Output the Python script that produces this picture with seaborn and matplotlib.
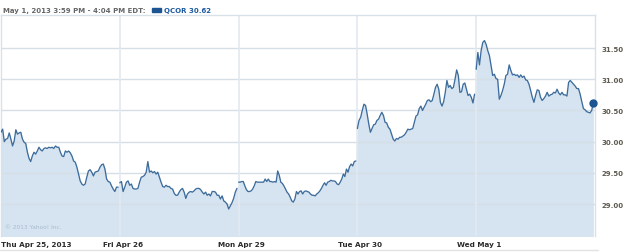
import numpy as np
import pandas as pd
import matplotlib
matplotlib.use("Agg")
import matplotlib.pyplot as plt
import matplotlib.transforms as mtransforms
import seaborn as sns

# ---- data (QCOR intraday prices) ----
day_labels = ["Thu Apr 25, 2013", "Fri Apr 26", "Mon Apr 29", "Tue Apr 30", "Wed May 1"]

thu = [30.15, 30.20, 30.00, 30.04, 30.05, 30.14, 30.04, 29.93, 30.01, 30.19, 30.12, 30.14,
       30.15, 30.04, 29.99, 29.97, 29.83, 29.73, 29.68, 29.77, 29.83, 29.80, 29.85, 29.91,
       29.87, 29.85, 29.89, 29.90, 29.89, 29.91, 29.90, 29.91, 29.89, 29.93, 29.91, 29.91,
       29.83, 29.77, 29.76, 29.85, 29.83, 29.85, 29.82, 29.77, 29.69, 29.67, 29.59, 29.48,
       29.37, 29.32, 29.30, 29.32, 29.43, 29.53, 29.55, 29.51, 29.45, 29.51, 29.52, 29.53,
       29.59, 29.63, 29.64, 29.56, 29.40, 29.36, 29.35, 29.29, 29.24, 29.20, 29.27, 29.27]

fri = [29.34, 29.36, 29.20, 29.27, 29.35, 29.37, 29.30, 29.32, 29.25, 29.24, 29.24, 29.25,
       29.35, 29.43, 29.44, 29.46, 29.51, 29.68, 29.51, 29.53, 29.50, 29.52, 29.48, 29.51,
       29.43, 29.35, 29.28, 29.27, 29.30, 29.28, 29.28, 29.25, 29.24, 29.17, 29.14, 29.14,
       29.19, 29.23, 29.25, 29.19, 29.09, 29.16, 29.19, 29.20, 29.19, 29.21, 29.24, 29.25,
       29.25, 29.23, 29.19, 29.16, 29.19, 29.14, 29.16, 29.13, 29.20, 29.20, 29.19, 29.14,
       29.14, 29.08, 29.13, 29.05, 29.03, 29.00, 28.92, 28.97, 29.02, 29.09, 29.19, 29.25]

mon = [29.35, 29.35, 29.36, 29.36, 29.29, 29.23, 29.20, 29.20, 29.21, 29.24, 29.29, 29.36,
       29.35, 29.35, 29.35, 29.35, 29.35, 29.40, 29.36, 29.40, 29.36, 29.36, 29.35, 29.36,
       29.35, 29.53, 29.46, 29.35, 29.33, 29.29, 29.24, 29.19, 29.16, 29.11, 29.05, 29.03,
       29.08, 29.20, 29.16, 29.20, 29.21, 29.16, 29.20, 29.21, 29.20, 29.19, 29.16, 29.14,
       29.14, 29.13, 29.16, 29.18, 29.21, 29.25, 29.30, 29.34, 29.30, 29.35, 29.36, 29.38,
       29.37, 29.37, 29.36, 29.32, 29.31, 29.35, 29.40, 29.48, 29.44, 29.56, 29.51, 29.60,
       29.64, 29.61, 29.68, 29.69]

tue = [30.21, 30.34, 30.39, 30.50, 30.60, 30.58, 30.44, 30.28, 30.15, 30.21, 30.27, 30.28,
       30.34, 30.36, 30.42, 30.47, 30.42, 30.31, 30.30, 30.23, 30.20, 30.12, 30.04, 30.01,
       30.05, 30.04, 30.07, 30.07, 30.09, 30.11, 30.15, 30.20, 30.19, 30.20, 30.21, 30.31,
       30.41, 30.43, 30.53, 30.57, 30.50, 30.55, 30.60, 30.66, 30.67, 30.64, 30.66, 30.76,
       30.87, 30.92, 30.84, 30.63, 30.57, 30.64, 30.79, 30.98, 30.87, 30.90, 30.85, 30.87,
       31.00, 31.15, 31.06, 30.79, 30.80, 30.92, 30.94, 30.84, 30.74, 30.76, 30.71, 30.62,
       30.76]

wed = [31.16, 31.43, 31.23, 31.46, 31.59, 31.62, 31.56, 31.46, 31.38, 31.22, 31.06, 31.08,
       31.01, 31.00, 30.68, 30.74, 30.82, 30.92, 31.06, 31.08, 31.23, 31.14, 31.07, 31.08,
       31.06, 31.07, 31.03, 31.07, 31.03, 31.05, 30.99, 30.98, 30.92, 30.82, 30.71, 30.63,
       30.74, 30.83, 30.82, 30.71, 30.66, 30.69, 30.73, 30.79, 30.73, 30.75, 30.76, 30.79,
       30.78, 30.84, 30.78, 30.75, 30.79, 30.75, 30.75, 30.73, 30.95, 30.98, 30.95, 30.92,
       30.89, 30.85, 30.85, 30.76, 30.64, 30.53, 30.51, 30.48, 30.47, 30.46, 30.50, 30.62]

y_ticks = [29.00, 29.50, 30.00, 30.50, 31.00, 31.50]
symbol = "QCOR"
last_price = 30.62
header = "May 1, 2013 3:59 PM - 4:04 PM EDT:"

# ---- build the table ----
rows = []
for d, prices in enumerate([thu, fri, mon, tue, wed]):
    n = len(prices)
    for i, p in enumerate(prices):
        rows.append({"pos": d + i / n, "price": p, "day": d})
df = pd.DataFrame(rows)

# ---- style ----
sns.set_theme(style="white")
plt.rcParams["font.family"] = ["DejaVu Sans"]

LINE = "#3d6c9c"
FILL = "#d5e4f0"
GRID_H = "#d6dee6"
GRID_V = "#e2e9f0"

fig = plt.figure(figsize=(6.25, 2.53), dpi=100)
ax = fig.add_axes([1 / 625, 16 / 253, 594 / 625, 221 / 253])

ax.fill_between(df["pos"], df["price"], 28.0, color=FILL, lw=0, zorder=1)
sns.lineplot(data=df, x="pos", y="price", hue="day", units="day", estimator=None,
             palette=[LINE] * 5, legend=False, lw=0.95, ax=ax, zorder=4)
ax.plot([df["pos"].iloc[-1]], [df["price"].iloc[-1]], "o", color="#1d5592",
        ms=5, zorder=5, clip_on=False)

ax.set_xlim(0, 5)
ax.set_ylim(28.487, 32.03)

for v in y_ticks:
    ax.axhline(v, color=GRID_H, lw=1.0, zorder=2)
for d in range(1, 5):
    ax.axvline(d, color=GRID_V, lw=1.2, zorder=2)

ax.yaxis.tick_right()
ax.set_yticks(y_ticks)
ax.set_yticklabels([f"{v:.2f}" for v in y_ticks])
ax.set_xticks(range(5))
ax.set_xticklabels(day_labels)
ax.tick_params(axis="y", length=0, pad=5, labelsize=5.0, labelcolor="#5e5a50")
ax.tick_params(axis="x", length=0, pad=3.5, labelsize=5.2, labelcolor="#2a2a2a")
for lab in ax.get_yticklabels() + ax.get_xticklabels():
    lab.set_fontweight("bold")
xl = ax.get_xticklabels()
xl[0].set_horizontalalignment("left")
shift = mtransforms.ScaledTranslation(3 / 100, 0, fig.dpi_scale_trans)
for lab in xl[1:]:
    lab.set_horizontalalignment("center")
    lab.set_transform(lab.get_transform() + shift)

ax.set_xlabel("")
ax.set_ylabel("")
for s in ["left", "right", "top"]:
    ax.spines[s].set_color("#d9e1e8")
    ax.spines[s].set_linewidth(1.0)
ax.spines["bottom"].set_visible(False)

ax.text(0.006, 0.03, "\u00a9 2013 Yahoo! Inc.", transform=ax.transAxes,
        fontsize=4.2, color="#a8bccd", ha="left", va="bottom")

# header
fig.text(3 / 625, 1 - 11 / 253, header, fontsize=5.0, fontweight="bold",
         color="#666666", ha="left", va="center")
fig.patches.append(matplotlib.patches.Rectangle((152 / 625, 1 - 13 / 253), 9 / 625, 4 / 253,
                                                transform=fig.transFigure, color="#1d5592"))
fig.text(164 / 625, 1 - 11 / 253, f"{symbol} {last_price:.2f}", fontsize=5.0,
         fontweight="bold", color="#1d5aa0", ha="left", va="center")

# bottom rule
fig.add_artist(matplotlib.lines.Line2D([0, 598 / 625], [2 / 253, 2 / 253],
                                       transform=fig.transFigure, color="#e2e2e2", lw=1.0))

fig.savefig("out.png", dpi=100)
